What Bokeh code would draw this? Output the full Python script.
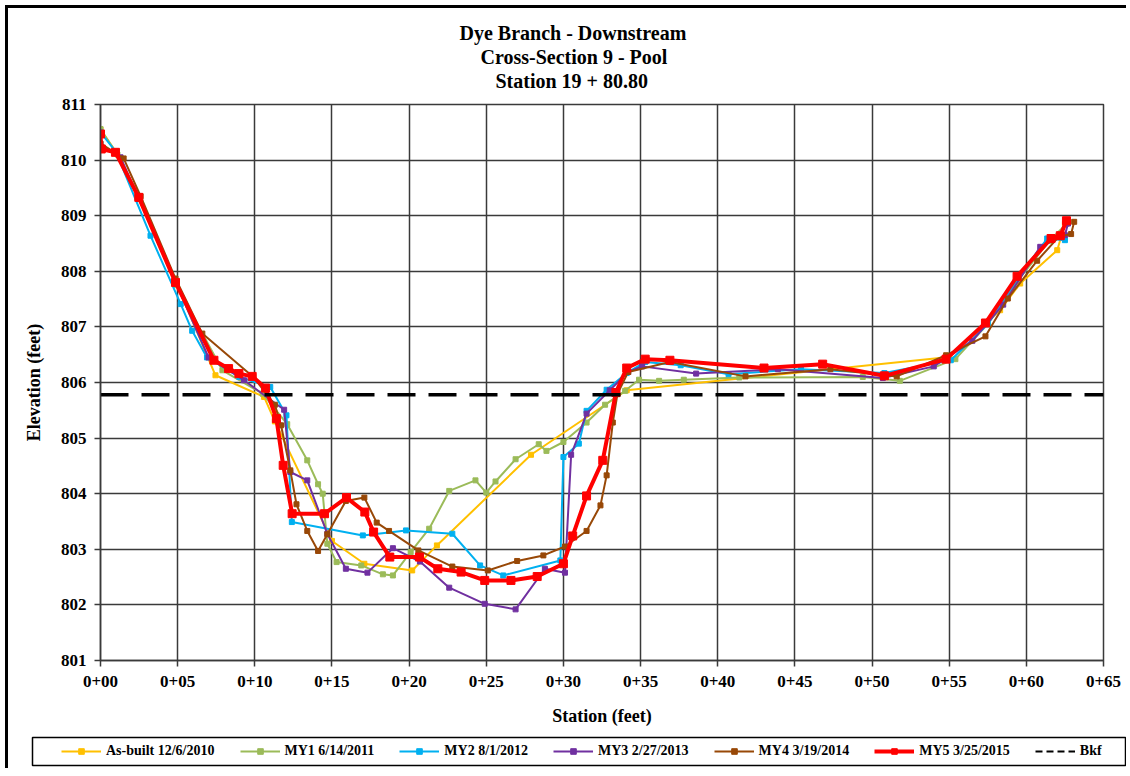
from bokeh.plotting import figure
from bokeh.layouts import column
from bokeh.models import FixedTicker, Legend, LegendItem, Title, Range1d
from bokeh.embed import file_html
from bokeh.resources import INLINE

# ---------------- data ----------------
station_ticks = [0, 5, 10, 15, 20, 25, 30, 35, 40, 45, 50, 55, 60, 65]
station_labels = ["0+00", "0+05", "0+10", "0+15", "0+20", "0+25", "0+30",
                  "0+35", "0+40", "0+45", "0+50", "0+55", "0+60", "0+65"]
elev_ticks = [801, 802, 803, 804, 805, 806, 807, 808, 809, 810, 811]

asbuilt_x = [0.0, 1.0, 2.5, 4.9, 7.45, 10.6, 11.3, 15.0, 17.1, 20.2, 21.8, 27.9,
             34.1, 55.0, 58.3, 59.6, 62.0, 62.5]
asbuilt_y = [810.55, 810.15, 809.30, 807.80, 806.13, 805.74, 805.30, 803.15, 802.74,
             802.62, 803.07, 804.70, 805.86, 806.46, 807.30, 807.78, 808.38, 808.85]

my1_x = [0.0, 1.1, 2.5, 4.9, 7.9, 10.5, 12.1, 13.4, 14.1, 14.4, 14.7, 15.3, 16.9,
         18.3, 18.95, 20.1, 21.3, 22.6, 24.3, 25.0, 25.6, 26.9, 28.4, 28.9, 30.0,
         31.5, 32.7, 34.0, 34.9, 36.2, 37.8, 41.4, 49.4, 51.8, 55.4, 57.5, 59.5,
         61.5, 62.6]
my1_y = [810.56, 810.10, 809.30, 807.75, 806.22, 805.80, 805.25, 804.60, 804.17,
         804.00, 803.10, 802.77, 802.71, 802.55, 802.53, 802.95, 803.37, 804.05,
         804.24, 804.02, 804.22, 804.62, 804.89, 804.77, 804.93, 805.28, 805.60,
         805.85, 806.05, 806.03, 806.05, 806.09, 806.10, 806.03, 806.42, 807.05,
         807.85, 808.55, 808.85]

my2_x = [0.0, 1.0, 3.24, 5.2, 5.94, 6.9, 9.0, 11.0, 12.05, 12.4, 17.0, 19.8, 22.8,
         24.6, 26.1, 29.8, 30.0, 31.0, 31.5, 32.8, 34.1, 35.3, 37.6, 40.7, 45.4,
         50.8, 55.1, 57.5, 59.5, 61.35, 62.5]
my2_y = [810.50, 810.15, 808.64, 807.41, 806.93, 806.45, 806.10, 805.92, 805.41,
         803.49, 803.25, 803.34, 803.28, 802.71, 802.53, 802.80, 804.66, 804.90,
         805.49, 805.87, 806.17, 806.37, 806.31, 806.15, 806.24, 806.17, 806.40,
         807.05, 807.90, 808.59, 808.56]

my3_x = [0.0, 1.3, 2.5, 4.9, 7.0, 9.3, 11.9, 12.3, 13.4, 14.7, 15.9, 17.3, 18.95,
         20.7, 22.6, 24.9, 26.9, 28.8, 30.1, 30.5, 31.5, 33.0, 34.2, 35.1, 38.6,
         43.9, 50.7, 54.0, 56.5, 58.5, 60.9, 62.5, 62.7]
my3_y = [810.29, 810.05, 809.30, 807.78, 806.45, 806.04, 805.51, 804.39, 804.24,
         803.28, 802.65, 802.58, 803.02, 802.78, 802.31, 802.02, 801.92, 802.65,
         802.58, 804.70, 805.44, 805.86, 806.19, 806.29, 806.16, 806.24, 806.08,
         806.29, 806.75, 807.40, 808.44, 808.65, 808.86]

my4_x = [0.0, 1.5, 2.6, 4.86, 6.6, 9.9, 11.3, 11.7, 12.3, 12.7, 13.4, 14.1, 14.7,
         15.9, 17.1, 17.9, 18.7, 20.6, 22.8, 25.1, 27.0, 28.7, 30.1, 31.5, 32.4,
         32.8, 33.2, 33.5, 34.2, 36.9, 41.8, 47.3, 51.6, 54.8, 57.35, 58.8, 60.7,
         62.1, 62.9, 63.1]
my4_y = [810.30, 810.03, 809.35, 807.87, 806.88, 806.10, 805.60, 805.23, 804.42,
         803.81, 803.33, 802.97, 803.27, 803.87, 803.93, 803.48, 803.33, 802.98,
         802.69, 802.62, 802.79, 802.89, 803.05, 803.33, 803.79, 804.33, 805.28,
         805.79, 806.19, 806.37, 806.11, 806.24, 806.11, 806.49, 806.83, 807.51,
         808.19, 808.62, 808.67, 808.89]

my5_x = [0.0, 0.05, 0.97, 2.48, 4.86, 7.35, 8.3, 8.97, 9.83, 10.7, 11.4, 11.84,
         12.42, 14.52, 15.94, 17.13, 17.7, 18.75, 20.67, 21.86, 23.37, 24.9, 26.6,
         28.3, 30.0, 30.6, 31.5, 32.55, 33.4, 34.1, 35.3, 36.9, 43.0, 46.8, 50.8,
         54.8, 57.35, 59.4, 61.6, 62.2, 62.6]
my5_y = [810.47, 810.20, 810.14, 809.33, 807.80, 806.40, 806.25, 806.16, 806.11,
         805.90, 805.35, 804.51, 803.64, 803.64, 803.93, 803.67, 803.31, 802.86,
         802.86, 802.65, 802.59, 802.44, 802.44, 802.51, 802.74, 803.24, 803.96,
         804.60, 805.82, 806.26, 806.42, 806.40, 806.26, 806.33, 806.12, 806.42,
         807.07, 807.91, 808.59, 808.64, 808.91]

bkf_x = [0, 65]
bkf_y = [805.78, 805.78]

series_names = ["As-built 12/6/2010", "MY1 6/14/2011", "MY2 8/1/2012",
                "MY3 2/27/2013", "MY4 3/19/2014", "MY5 3/25/2015", "Bkf"]
colors = ["#FFC000", "#9BBB59", "#00B0F0", "#7030A0", "#984807", "#FF0000", "#000000"]
title_lines = ["Dye Branch - Downstream", "Cross-Section 9 - Pool", "Station 19 + 80.80"]

FONT = "Liberation Serif"

series = [(asbuilt_x, asbuilt_y), (my1_x, my1_y), (my2_x, my2_y), (my3_x, my3_y),
          (my4_x, my4_y), (my5_x, my5_y)]

# ---------------- main chart ----------------
p = figure(width=1118, height=724, output_backend="svg", toolbar_location=None,
           x_range=Range1d(0, 65), y_range=Range1d(801, 811), title=None,
           min_border_left=92, min_border_right=23, min_border_top=96,
           min_border_bottom=72)
p.frame_align = False

p.background_fill_color = "white"
p.border_fill_color = "white"
p.outline_line_color = "#3a3a3a"
p.outline_line_width = 1.5

p.xaxis.ticker = FixedTicker(ticks=station_ticks)
p.xaxis.major_label_overrides = {t: l for t, l in zip(station_ticks, station_labels)}
p.yaxis.ticker = FixedTicker(ticks=elev_ticks)
p.xaxis.minor_tick_line_color = None
p.yaxis.minor_tick_line_color = None

for ax in (p.xaxis, p.yaxis):
    ax.major_label_text_font = FONT
    ax.major_label_text_font_style = "bold"
    ax.major_label_text_font_size = "17px"
    ax.major_label_text_color = "black"
    ax.axis_label_text_font = FONT
    ax.axis_label_text_font_style = "bold"
    ax.axis_label_text_font_size = "18px"
    ax.axis_label_text_color = "black"
    ax.axis_line_color = "#3a3a3a"
    ax.axis_line_width = 1.5
    ax.major_tick_line_color = "#3a3a3a"
    ax.major_tick_line_width = 1.5
    ax.major_tick_in = 0
    ax.major_tick_out = 6

p.xaxis.axis_label = "Station (feet)"
p.yaxis.axis_label = "Elevation (feet)"
p.xaxis.major_label_standoff = 9
p.yaxis.major_label_standoff = 8
p.xaxis.axis_label_standoff = 16
p.yaxis.axis_label_standoff = 14

p.xgrid.ticker = FixedTicker(ticks=station_ticks)
p.ygrid.ticker = FixedTicker(ticks=elev_ticks)
for g in (p.xgrid, p.ygrid):
    g.grid_line_color = "#3a3a3a"
    g.grid_line_width = 1.5

# spacer between frame and the title block
p.add_layout(Title(text=" ", text_font_size="10px", standoff=0), "above")
title_offsets = [359, 380, 395]
for i in (2, 1, 0):
    p.add_layout(Title(text=title_lines[i], align="left", text_font=FONT,
                       text_font_style="bold", text_font_size="20px",
                       text_color="black", standoff=0,
                       offset=title_offsets[i]), "above")

for i, (xs, ys) in enumerate(series):
    thick = (i == 5)
    p.line(xs, ys, line_color=colors[i], line_width=4 if thick else 2)
    p.scatter(xs, ys, marker="square", size=8 if thick else 5,
              fill_color=colors[i], line_color=colors[i])
p.line(bkf_x, bkf_y, line_color="black", line_width=3.5, line_dash="28 13")

# ---------------- legend strip (its own frame is the legend box) ----------------
lg = figure(width=1118, height=36, output_backend="svg", toolbar_location=None,
            x_range=Range1d(-1000, -999), y_range=Range1d(-1000, -999), title=None,
            x_axis_type=None, y_axis_type=None,
            min_border_left=24, min_border_right=0, min_border_top=5,
            min_border_bottom=3)
lg.frame_align = False
lg.grid.visible = False
lg.background_fill_color = "white"
lg.border_fill_color = "white"
lg.outline_line_color = "black"
lg.outline_line_width = 1.5

items = []
for i, (xs, ys) in enumerate(series):
    thick = (i == 5)
    r1 = lg.line(xs, ys, line_color=colors[i], line_width=4 if thick else 2)
    r2 = lg.scatter(xs, ys, marker="square", size=8 if thick else 5,
                    fill_color=colors[i], line_color=colors[i])
    items.append(LegendItem(label=series_names[i], renderers=[r1, r2]))
rb = lg.line(bkf_x, bkf_y, line_color="black", line_width=2, line_dash="7 4")
items.append(LegendItem(label=series_names[6], renderers=[rb]))

legend = Legend(items=items, orientation="horizontal", location=(29, 6),
                label_text_font=FONT, label_text_font_style="bold",
                label_text_font_size="14px", label_text_color="black",
                glyph_width=40, glyph_height=14, label_standoff=5, spacing=25,
                padding=0, margin=0, border_line_color=None,
                background_fill_alpha=0.0)
lg.add_layout(legend, "center")

layout = column(p, lg, spacing=0,
                styles={"border-left": "3px solid black", "border-top": "3px solid black",
                        "margin-left": "5px", "margin-top": "5px"})

open("out.html", "w").write(file_html(layout, INLINE))
